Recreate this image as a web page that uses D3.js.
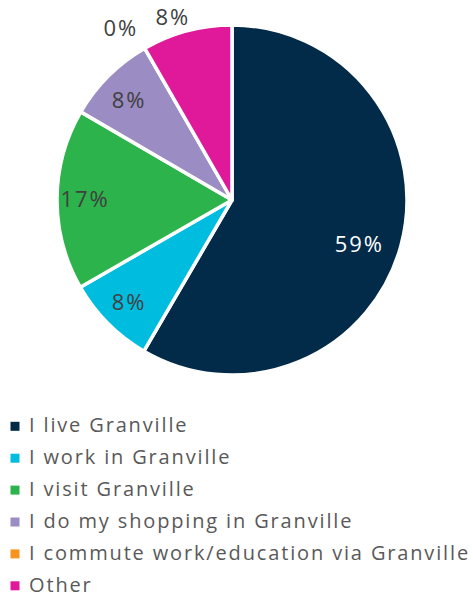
<!DOCTYPE html>
<html>
<head>
<meta charset="utf-8">
<script src="https://cdn.jsdelivr.net/npm/d3@7"></script>
<style>
  html, body { margin: 0; padding: 0; background: #ffffff; }
  svg { display: block; }
</style>
</head>
<body>
<svg id="chart" width="473" height="597"></svg>
<script>
// ---- data ----
const categories = [
  "I live Granville",
  "I work in Granville",
  "I visit Granville",
  "I do my shopping in Granville",
  "I commute work/education via Granville",
  "Other"
];
const values = [58.4, 8.3, 16.7, 8.3, 0, 8.3];
const valueLabels = ["59%", "8%", "17%", "8%", "0%", "8%"];
const colors = ["#022b4a", "#00bde0", "#2db34b", "#9b8cc3", "#f7941e", "#e0199a"];

// ---- layout ----
const W = 473, H = 597;
const cx = 232, cy = 200, R = 175;
const FONT = "'Open Sans', 'Noto Sans', sans-serif";
// label placement: [radius factor, angle offset (deg)]
const labelPlace = [[0.77, 4], [0.83, 0], [0.84, 0], [0.82, -1], [1.17, -3], [1.10, -3]];
const labelColor = ["#ffffff", "#404040", "#404040", "#404040", "#404040", "#404040"];

const svg = d3.select("#chart");
const g = svg.append("g").attr("transform", `translate(${cx},${cy})`);

const pie = d3.pie().sort(null).value(d => d)(values);
const arc = d3.arc().innerRadius(0).outerRadius(R);

g.selectAll("path.slice")
  .data(pie)
  .join("path")
  .attr("class", "slice")
  .attr("d", arc)
  .attr("fill", (d, i) => colors[i])
  .attr("stroke", "#ffffff")
  .attr("stroke-width", 3.5)
  .attr("stroke-linejoin", "round");

const labels = g.selectAll("text.lbl")
  .data(pie)
  .join("text")
  .attr("class", "lbl")
  .attr("transform", (d, i) => {
    const a = (d.startAngle + d.endAngle) / 2 + labelPlace[i][1] * Math.PI / 180;
    const r = R * labelPlace[i][0];
    return `translate(${r * Math.sin(a)},${-r * Math.cos(a)})`;
  })
  .attr("text-anchor", "middle")
  .attr("dy", "0.36em")
  .attr("font-family", FONT)
  .attr("font-size", 22)
  .attr("fill", (d, i) => labelColor[i])
  .text((d, i) => valueLabels[i]);

// adjust letter spacing of pie labels to match the reference width of "59%"
(function () {
  const node = labels.nodes()[0];
  const w = node.getComputedTextLength();
  const ls = Math.max(0, (49 - w) / 3);
  labels.attr("letter-spacing", ls);
})();

// ---- legend ----
const legendX = 10, legendTextX = 29, legendY0 = 432.3, legendStep = 31.9;
const lg = svg.append("g");
const rows = lg.selectAll("g.row")
  .data(categories)
  .join("g")
  .attr("class", "row")
  .attr("transform", (d, i) => `translate(0,${legendY0 + i * legendStep})`);

rows.append("rect")
  .attr("x", legendX + 0.5)
  .attr("y", -10.5)
  .attr("width", 9)
  .attr("height", 9)
  .attr("fill", (d, i) => colors[i]);

const ltexts = rows.append("text")
  .attr("x", legendTextX)
  .attr("y", 0)
  .attr("font-family", FONT)
  .attr("font-size", 20)
  .attr("fill", "#595959")
  .text(d => d);

(function () {
  const longest = ltexts.nodes()[4];
  const w = longest.getComputedTextLength();
  const n = categories[4].length;
  const ls = Math.max(0, (441 - w) / n);
  ltexts.attr("letter-spacing", ls);
})();
</script>
</body>
</html>
